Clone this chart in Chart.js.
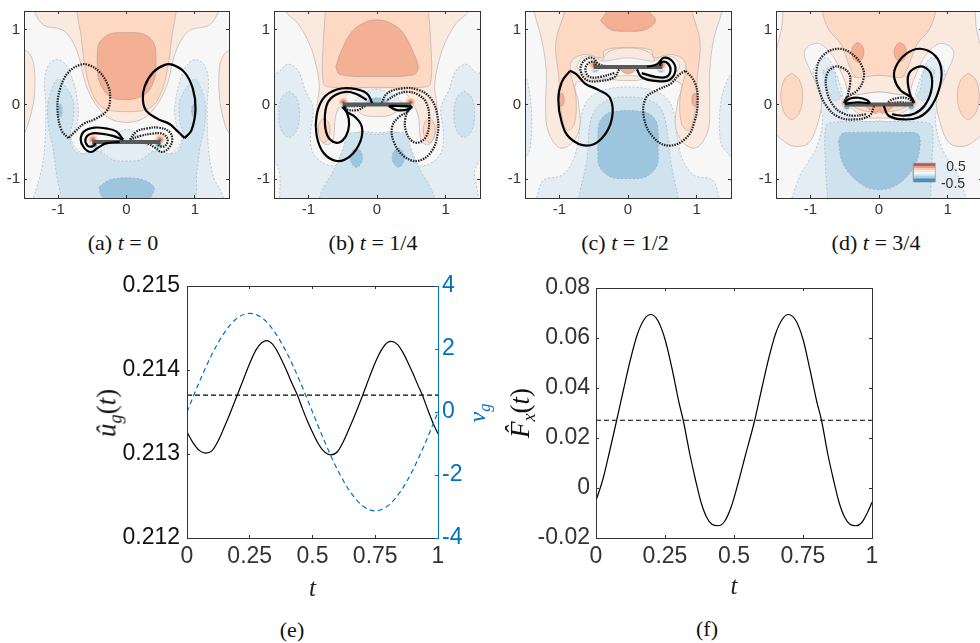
<!DOCTYPE html>
<html>
<head>
<meta charset="utf-8">
<title>Flapping foil</title>
<script src="https://cdn.jsdelivr.net/npm/chart.js@4"></script>
<style>
 html, body { margin: 0; padding: 0; background: #fff; }
 #page { position: relative; width: 980px; height: 643px; overflow: hidden; }
 canvas { position: absolute; }
 .txt { position: absolute; white-space: nowrap; transform: translate(-50%, -50%); font-family: "Liberation Serif", serif; color: #111; }
 .rot { transform: translate(-50%, -50%) rotate(-90deg); }
 .txt i { font-style: italic; }
 .txt sub { font-size: 68%; line-height: 0; }
</style>
</head>
<body>
<div id="page"></div>
<script>
// panel (a) t = 0
var aSideL = [[-1.6,.75],[-1.5,.73],[-1.42,.68],[-1.35,.5],[-1.35,.1],[-1.42,-.2],[-1.5,-.38],[-1.6,-.4],[-1.6,.75]];
var aSideR = [[1.6,.73],[1.5,.72],[1.42,.66],[1.36,.5],[1.36,.1],[1.42,-.2],[1.5,-.38],[1.6,-.4],[1.6,.73]];
var aCool1 = [[-1.38,-1.3],[-1.26,-.93],[-1.2,-.6],[-1.18,0],[-1.2,.32],[-1.13,.54],[-1,.6],[-.88,.52],[-.77,.28],[-.71,0],[-.71,-.18],[-.76,-.36],[-.81,-.45],[-.73,-.6],[-.55,-.68],[-.38,-.62],[-.25,-.5],[-.12,-.38],[0,-.33],[.12,-.38],[.25,-.5],[.38,-.62],[.55,-.68],[.73,-.6],[.81,-.45],[.76,-.36],[.71,-.18],[.71,0],[.77,.28],[.88,.52],[1,.6],[1.13,.54],[1.2,.32],[1.18,0],[1.2,-.6],[1.26,-.93],[1.38,-1.3],[-1.38,-1.3]];
var aCool2 = [[-.94,-1.3],[-1.03,-.9],[-1.08,-.55],[-1.14,-.3],[-1.15,0],[-1.08,.24],[-1,.34],[-.9,.25],[-.78,.05],[-.78,-.2],[-.83,-.45],[-.72,-.65],[-.4,-.625],[-.2,-.74],[0,-.755],[.2,-.74],[.4,-.625],[.72,-.65],[.83,-.45],[.78,-.2],[.78,.05],[.9,.25],[1,.34],[1.08,.24],[1.15,0],[1.14,-.3],[1.08,-.55],[1.03,-.9],[.94,-1.3],[-.94,-1.3]];
var aCool3 = [[-.4,-1.1],[-.25,-1.01],[0,-.98],[.25,-1.01],[.4,-1.1],[.38,-1.2],[.28,-1.3],[-.28,-1.3],[-.38,-1.2],[-.4,-1.1]];
var aSpotL = [[-.97,.01],[-.95,-.02],[-.94,-.08],[-.95,-.14],[-.97,-.17],[-.99,-.14],[-1,-.08],[-.99,-.02],[-.97,.01]];
var aSpotR = [[.985,.01],[1.005,-.02],[1.02,-.08],[1.005,-.14],[.985,-.17],[.965,-.14],[.95,-.08],[.965,-.02],[.985,.01]];
var aWarm1 = [[-1.35,1.35],[-1.35,1.25],[-1.21,1.06],[-.94,1],[-.8,.86],[-.69,.62],[-.6,.28],[-.45,0],[-.25,-.185],[0,-.24],[.25,-.185],[.45,0],[.6,.28],[.69,.62],[.8,.86],[.94,1],[1.21,1.06],[1.35,1.25],[1.35,1.35],[-1.35,1.35]];
var aWarm2 = [[-.73,1.35],[-.73,1.25],[-.67,.95],[-.62,.58],[-.52,.19],[-.35,-.04],[0,-.095],[.35,-.04],[.52,.19],[.62,.58],[.67,.95],[.73,1.25],[.73,1.35],[-.73,1.35]];
var aWarm3 = [[-.43,.62],[-.4,.82],[-.25,.94],[0,.96],[.25,.94],[.4,.82],[.43,.62],[.41,.345],[.29,.15],[.09,.07],[0,.065],[-.18,.08],[-.3,.15],[-.41,.345],[-.43,.62]];
var aTipsWarm = [[-.49,-.47],[.49,-.47]];
var aTipsCool = [[-.47,-.54],[.47,-.54]];
var aFoil = [[-.5,-.5],[.5,-.5]];
var aLoopSolid = [[.85,-.45],[.95,-.345],[1.01,-.065],[.97,.215],[.85,.43],[.68,.53],[.56,.53],[.39,.43],[.265,.24],[.24,.065],[.29,-.085],[.46,-.195],[.63,-.26],[.755,-.365],[.85,-.45]];
var aLoopDotted = [[-.85,-.45],[-.95,-.345],[-1.01,-.065],[-.97,.215],[-.85,.43],[-.68,.53],[-.56,.53],[-.39,.43],[-.265,.24],[-.24,.065],[-.29,-.085],[-.46,-.195],[-.63,-.26],[-.755,-.365],[-.85,-.45]];
var aCurlSolid1 = [[-.05,-.47],[-.15,-.36],[-.3,-.32],[-.47,-.31],[-.62,-.36],[-.67,-.47],[-.62,-.58],[-.52,-.635],[-.42,-.58],[-.3,-.52],[-.1,-.5]];
var aCurlSolid2 = [[-.05,-.47],[-.2,-.42],[-.38,-.39],[-.52,-.39],[-.6,-.46],[-.57,-.55],[-.5,-.56],[-.45,-.52]];
var aCurlDotted1 = [[.05,-.47],[.15,-.36],[.3,-.32],[.47,-.31],[.62,-.36],[.67,-.47],[.62,-.58],[.52,-.635],[.42,-.58],[.3,-.52],[.1,-.5]];
var aCurlDotted2 = [[.05,-.47],[.2,-.42],[.38,-.39],[.52,-.39],[.6,-.46],[.57,-.55],[.5,-.56],[.45,-.52]];

// panel (b) t = 1/4
var bCool1 = [[-1.42,-1.3],[-1.42,-.9],[-1.5,-.75],[-1.55,-.75],[-1.55,.42],[-1.45,.42],[-1.3,.54],[-1.15,.45],[-1.05,.2],[-.93,-.05],[-.97,-.4],[-.93,-.65],[-.75,-.8],[-.55,-.8],[-.45,-.6],[-.3,-.38],[0,-.38],[.3,-.38],[.45,-.6],[.55,-.8],[.75,-.8],[.93,-.65],[.97,-.4],[.93,-.05],[1.05,.2],[1.15,.45],[1.3,.54],[1.45,.42],[1.55,.42],[1.55,-.75],[1.5,-.75],[1.42,-.9],[1.42,-1.3],[-1.42,-1.3]];
var bCool2 = [[-.84,-1.3],[-.84,-1.25],[-.76,-1.08],[-.63,-.88],[-.49,-.58],[-.41,-.39],[0,-.4],[.41,-.39],[.49,-.58],[.63,-.88],[.76,-1.08],[.84,-1.25],[.84,-1.3],[-.84,-1.3]];
var bSideL = [[-1.28,.18],[-1.17,.09],[-1.13,-.13],[-1.17,-.35],[-1.28,-.44],[-1.39,-.35],[-1.43,-.13],[-1.39,.09],[-1.28,.18]];
var bSideR = [[1.27,.18],[1.38,.09],[1.42,-.13],[1.38,-.35],[1.27,-.44],[1.16,-.35],[1.12,-.13],[1.16,.09],[1.27,.18]];
var bSpotL = [[-.3,-.58],[-.24,-.62],[-.21,-.71],[-.24,-.8],[-.3,-.84],[-.36,-.8],[-.39,-.71],[-.36,-.62],[-.3,-.58]];
var bSpotR = [[.31,-.58],[.37,-.62],[.4,-.71],[.37,-.8],[.31,-.84],[.25,-.8],[.22,-.71],[.25,-.62],[.31,-.58]];
var bWarm1 = [[-1.34,1.35],[-1.34,1.25],[-1.15,1.08],[-.98,.8],[-.88,.5],[-.84,.24],[-.87,0],[-.88,-.25],[-.78,-.52],[-.65,-.5],[-.6,-.15],[-.5,.05],[-.35,.2],[0,.22],[.35,.2],[.5,.05],[.6,-.15],[.65,-.5],[.78,-.52],[.88,-.25],[.87,0],[.84,.24],[.88,.5],[.98,.8],[1.15,1.08],[1.34,1.25],[1.34,1.35],[-1.34,1.35]];
var bWarm2 = [[-.75,1.35],[-.75,1.25],[-.78,.88],[-.78,.28],[-.66,.23],[0,.23],[.66,.23],[.78,.28],[.78,.88],[.75,1.25],[.75,1.35],[-.75,1.35]];
var bWarm3 = [[-.6,.5],[-.54,.67],[-.37,.97],[-.17,1.1],[0,1.13],[.17,1.1],[.37,.97],[.54,.67],[.6,.5],[.54,.4],[0,.375],[-.54,.4],[-.6,.5]];
var bLobeL = [[-.77,-.18],[-.71,-.23],[-.685,-.345],[-.71,-.46],[-.77,-.51],[-.83,-.46],[-.855,-.345],[-.83,-.23],[-.77,-.18]];
var bLobeR = [[.76,-.18],[.82,-.23],[.845,-.34],[.82,-.46],[.76,-.51],[.7,-.46],[.675,-.34],[.7,-.23],[.76,-.18]];
var bTop1 = [[-.36,.01],[-.22,.14],[0,.2],[.22,.14],[.36,.01],[-.36,.01]];
var bTop2 = [[-.18,.01],[-.08,.08],[.08,.08],[.18,.01],[-.18,.01]];
var bUnder = [[-.36,-.02],[-.2,-.14],[0,-.16],[.2,-.14],[.36,-.02],[-.36,-.02]];
var bTipsWarm = [[-.49,.03],[.49,.03]];
var bTipsCool = [[-.47,-.03],[.47,-.03]];
var bFoil = [[-.5,0],[.5,0]];
var bOuterSolid = [[-.07,.02],[-.15,.15],[-.37,.215],[-.585,.2],[-.78,.085],[-.88,-.15],[-.88,-.41],[-.78,-.645],[-.585,-.755],[-.39,-.69],[-.245,-.5],[-.22,-.3],[-.315,-.17],[-.44,-.1],[-.49,-.04]];
var bInnerSolid = [[-.15,.06],[-.3,.14],[-.45,.17],[-.6,.13],[-.72,.02],[-.76,-.2],[-.72,-.42],[-.6,-.51],[-.5,-.48],[-.42,-.35],[-.41,-.2],[-.46,-.06],[-.48,-.02]];
var bSmallSolid = [[.17,-.02],[.29,-.075],[.46,-.065],[.5,-.03],[.3,-.02],[.17,-.02]];
var bOuterDotted = [[.07,.02],[.15,.15],[.37,.215],[.585,.2],[.78,.085],[.88,-.15],[.88,-.41],[.78,-.645],[.585,-.755],[.39,-.69],[.245,-.5],[.22,-.3],[.315,-.17],[.44,-.1],[.49,-.04]];
var bInnerDotted = [[.15,.06],[.3,.14],[.45,.17],[.6,.13],[.72,.02],[.76,-.2],[.72,-.42],[.6,-.51],[.5,-.48],[.42,-.35],[.41,-.2],[.46,-.06],[.48,-.02]];
var bSmallDotted = [[-.17,-.02],[-.29,-.075],[-.46,-.065],[-.5,-.03],[-.3,-.02],[-.17,-.02]];

// panel (c) t = 1/2
var cSideL = [[-1.55,.4],[-1.5,.4],[-1.44,.2],[-1.4,-.2],[-1.43,-.6],[-1.5,-.72],[-1.55,-.72],[-1.55,.4]];
var cSideR = [[1.55,.4],[1.47,.37],[1.35,.02],[1.35,-.5],[1.47,-.67],[1.55,-.72],[1.55,.4]];
var cCool1 = [[-1.33,-1.3],[-1.33,-1.25],[-1.23,-1.01],[-.97,-.95],[-.8,-.75],[-.72,-.45],[-.68,-.15],[-.58,.065],[-.38,.185],[0,.235],[.38,.185],[.58,.065],[.68,-.15],[.72,-.45],[.8,-.75],[.97,-.95],[1.23,-1.01],[1.33,-1.25],[1.33,-1.3],[-1.33,-1.3]];
var cCool2 = [[-.72,-1.3],[-.72,-1.25],[-.6,-.75],[-.55,-.24],[-.43,-.02],[-.21,.085],[0,.1],[.2,.085],[.45,-.02],[.55,-.24],[.62,-.75],[.73,-1.25],[.73,-1.3],[-.72,-1.3]];
var cCool3 = [[-.44,-.6],[-.42,-.25],[-.3,-.12],[-.1,-.085],[0,-.08],[.1,-.085],[.3,-.12],[.42,-.25],[.44,-.6],[.42,-.82],[.25,-.97],[0,-.99],[-.25,-.97],[-.42,-.82],[-.44,-.6]];
var cWarm1 = [[-1.37,1.35],[-1.37,1.25],[-1.26,.88],[-1.19,.45],[-1.2,-.065],[-1.16,-.365],[-.99,-.58],[-.8,-.5],[-.7,-.28],[-.72,.02],[-.76,.28],[-.43,.32],[0,.345],[.43,.32],[.77,.28],[.72,.02],[.69,-.28],[.79,-.5],[.99,-.58],[1.16,-.365],[1.19,-.065],[1.19,.45],[1.25,.88],[1.37,1.25],[1.37,1.35],[-1.37,1.35]];
var cWarm2 = [[-.92,1.35],[-.92,1.25],[-1.05,.84],[-1.01,.37],[-.97,-.11],[-.89,-.345],[-.78,-.26],[-.76,.11],[-.84,.45],[-.81,.6],[-.62,.67],[-.38,.625],[-.33,.73],[0,.76],[.33,.73],[.38,.625],[.62,.67],[.81,.6],[.84,.45],[.76,.11],[.78,-.26],[.89,-.345],[.97,-.11],[1.01,.37],[1.05,.84],[.93,1.25],[.93,1.35],[-.92,1.35]];
var cWarm3 = [[-.4,1.12],[-.3,1.25],[-.25,1.32],[.25,1.32],[.3,1.25],[.4,1.12],[.25,1],[0,.98],[-.25,1],[-.4,1.12]];
var cHalo = [[-.75,.5],[-.67,.625],[-.5,.645],[-.38,.58],[0,.625],[.38,.58],[.5,.645],[.67,.625],[.75,.5],[.55,.345],[0,.39],[-.53,.345],[-.75,.5]];
var cBump = [[-.38,.58],[-.28,.71],[0,.755],[.28,.71],[.385,.58],[.25,.36],[0,.32],[-.25,.36],[-.38,.58]];
var cUnder = [[-.12,.48],[0,.49],[.12,.48],[.05,.42],[-.05,.42],[-.12,.48]];
var cSpotL = [[-.965,.155],[-.94,.12],[-.93,.065],[-.94,.01],[-.965,-.025],[-.99,.01],[-1,.065],[-.99,.12],[-.965,.155]];
var cSpotR = [[.97,.155],[1,.12],[1.01,.065],[1,.01],[.97,-.025],[.94,.01],[.93,.065],[.94,.12],[.97,.155]];
var cTipsWarm = [[-.49,.53],[.49,.53]];
var cTipsCool = [[-.48,.47],[.48,.47]];
var cFoil = [[-.5,.5],[.5,.5]];
var cLoopSolid = [[-.845,.45],[-.965,.3],[-1.015,.065],[-.965,-.24],[-.845,-.45],[-.6,-.55],[-.38,-.45],[-.235,-.19],[-.26,.085],[-.43,.195],[-.625,.28],[-.745,.4],[-.845,.45]];
var cLoopDotted = [[.84,.45],[.97,.3],[1.015,.065],[.965,-.24],[.845,-.45],[.6,-.55],[.38,-.45],[.235,-.19],[.26,.085],[.43,.195],[.625,.28],[.745,.4],[.84,.45]];
var cCurlSolid1 = [[.13,.47],[.2,.365],[.4,.315],[.595,.325],[.69,.45],[.645,.58],[.52,.625],[.425,.54],[.28,.505]];
var cCurlSolid2 = [[.2,.42],[.4,.37],[.56,.37],[.62,.46],[.58,.55],[.5,.57],[.46,.52]];
var cCurlDotted1 = [[-.13,.47],[-.2,.365],[-.4,.315],[-.595,.325],[-.69,.45],[-.645,.58],[-.52,.625],[-.425,.54],[-.28,.505]];
var cCurlDotted2 = [[-.2,.42],[-.4,.37],[-.56,.37],[-.62,.46],[-.58,.55],[-.5,.57],[-.46,.52]];

// panel (d) t = 3/4
var dCool1 = [[-1.3,-1.3],[-1.27,-1.25],[-1.15,-.95],[-1.05,-.8],[-.9,-.55],[-.82,-.2],[-.87,0],[-.96,.4],[-.9,.55],[-.75,.62],[-.6,.35],[-.5,.02],[-.46,-.1],[-.25,-.22],[0,-.22],[.25,-.22],[.46,-.1],[.5,.02],[.6,.35],[.75,.62],[.9,.55],[.96,.4],[.87,0],[.82,-.2],[.9,-.55],[1.05,-.8],[1.15,-.95],[1.27,-1.25],[1.3,-1.3],[-1.3,-1.3]];
var dLobeL = [[-.82,.45],[-.68,.5],[-.6,.2],[-.55,.1],[-.65,.05],[-.75,.2],[-.82,.45]];
var dLobeR = [[.82,.45],[.68,.5],[.6,.2],[.55,.1],[.65,.05],[.75,.2],[.82,.45]];
var dCool2 = [[-.75,-1.3],[-.75,-1.25],[-.785,-.71],[-.775,-.3],[-.69,-.24],[0,-.23],[.68,-.24],[.775,-.3],[.775,-.71],[.75,-1.25],[.75,-1.3],[-.75,-1.3]];
var dCool3 = [[-.59,-.5],[-.54,-.39],[-.35,-.375],[0,-.37],[.34,-.375],[.56,-.39],[.6,-.52],[.53,-.8],[.29,-1.06],[0,-1.14],[-.27,-1.06],[-.52,-.8],[-.59,-.5]];
var dWarm1 = [[-1.4,1.35],[-1.4,1.25],[-1.42,1.01],[-1.49,.75],[-1.55,.4],[-1.55,-.32],[-1.37,-.5],[-1.22,-.56],[-1.03,-.52],[-.91,-.3],[-.84,.06],[-1,.45],[-1.09,.67],[-1.03,.78],[-.86,.81],[-.66,.63],[-.5,.32],[-.42,.15],[0,.17],[.42,.15],[.5,.32],[.66,.63],[.86,.81],[1.03,.78],[1.09,.67],[1,.45],[.84,.06],[.91,-.3],[1.03,-.52],[1.22,-.56],[1.37,-.5],[1.55,-.32],[1.55,.4],[1.49,.75],[1.42,1.01],[1.4,1.25],[1.4,1.35],[-1.4,1.35]];
var dWarm2 = [[-.83,1.35],[-.83,1.25],[-.73,1],[-.55,.8],[-.4,.45],[-.3,.35],[0,.39],[.3,.35],[.4,.45],[.55,.8],[.73,1],[.83,1.25],[.83,1.35],[-.83,1.35]];
var dSpotL = [[-.31,.83],[-.25,.79],[-.22,.7],[-.25,.61],[-.31,.57],[-.37,.61],[-.4,.7],[-.37,.79],[-.31,.83]];
var dSpotR = [[.31,.83],[.37,.79],[.4,.7],[.37,.61],[.31,.57],[.25,.61],[.22,.7],[.25,.79],[.31,.83]];
var dSideL = [[-1.27,.42],[-1.16,.33],[-1.11,.11],[-1.16,-.11],[-1.27,-.2],[-1.38,-.11],[-1.43,.11],[-1.38,.33],[-1.27,.42]];
var dSideR = [[1.3,.42],[1.41,.33],[1.46,.11],[1.41,-.11],[1.3,-.2],[1.19,-.11],[1.14,.11],[1.19,.33],[1.3,.42]];
var dUnder1 = [[-.45,-.02],[-.2,-.17],[0,-.18],[.2,-.17],[.45,-.02],[-.45,-.02]];
var dUnder2 = [[-.4,-.02],[-.2,-.09],[.2,-.09],[.4,-.02],[-.4,-.02]];
var dUnder3 = [[-.2,-.02],[-.05,-.12],[0,-.08],[.05,-.12],[.2,-.02],[-.2,-.02]];
var dBump = [[-.4,.38],[-.3,.36],[0,.39],[.3,.36],[.4,.38],[.42,.15],[0,.17],[-.42,.15],[-.4,.38]];
var dTipsWarm = [[-.49,.02],[.49,.02]];
var dTipsCool = [[-.47,-.03],[.47,-.03]];
var dFoil = [[-.5,0],[.5,0]];
var dOuterSolid = [[.07,-.02],[.14,-.15],[.36,-.2],[.58,-.17],[.75,-.04],[.87,.19],[.91,.45],[.82,.65],[.6,.745],[.385,.67],[.24,.495],[.225,.345],[.31,.195],[.48,.085],[.51,.02]];
var dInnerSolid = [[.19,-.13],[.36,-.15],[.52,-.12],[.66,-.02],[.76,.18],[.76,.4],[.66,.5],[.56,.5],[.44,.42],[.42,.28],[.46,.12],[.5,.03]];
var dSmallSolid = [[-.5,.03],[-.42,.08],[-.3,.09],[-.18,.06],[-.14,.02],[-.3,.03],[-.5,.01]];
var dOuterDotted = [[-.07,-.02],[-.14,-.15],[-.36,-.2],[-.58,-.17],[-.75,-.04],[-.87,.19],[-.91,.45],[-.82,.65],[-.6,.745],[-.385,.67],[-.24,.495],[-.225,.345],[-.31,.195],[-.48,.085],[-.51,.02]];
var dInnerDotted = [[-.19,-.13],[-.36,-.15],[-.52,-.12],[-.66,-.02],[-.76,.18],[-.76,.4],[-.66,.5],[-.56,.5],[-.44,.42],[-.42,.28],[-.46,.12],[-.5,.03]];
var dSmallDotted = [[.5,.03],[.42,.08],[.3,.09],[.18,.06],[.14,.02],[.3,.03],[.5,.01]];

// colour key in panel (d)
var barX = [.5, .82];
var barY = [-1.035,-1.015,-.995,-.975,-.95,-.925,-.9,-.875,-.85,-.825,-.805,-.785];
var barColors = ['#1f5f9f','#3f86bb','#7ab2d5','#b0d3e6','#dcebf3','#f7f7f7','#fbe7dc','#f9cdb6','#ef9f80','#d4604c','#a82a2e'];

// panel (e)
var eTime = [0,.025,.05,.075,.1,.125,.15,.175,.2,.225,.25,.275,.3,.318,.34,.36,.38,.4,.42,.44,.46,.48,.5,.52,.54,.574,.6,.625,.65,.675,.7,.725,.75,.775,.8,.815,.84,.86,.88,.9,.92,.938,.96,.98,1];
var eGust = [.21326,.21313,.21304,.21301,.21304,.21316,.21333,.21351,.2137,.21389,.21408,.21424,.21433,.21435,.21431,.21422,.2141,.21397,.21383,.2137,.21354,.21339,.21326,.21314,.21305,.21299,.21303,.21316,.21333,.21351,.2137,.2139,.21409,.21424,.21433,.21434,.2143,.21421,.21409,.21396,.21382,.2137,.21352,.21337,.21324];
var eMeanX = [0, 1];
var eMean = [.2137, .2137];
var vTime = [0,.05,.1,.15,.2,.25,.3,.35,.4,.45,.5,.55,.6,.65,.7,.75,.8,.85,.9,.95,1];
var vGust = [0,.97,1.84,2.53,2.98,3.13,2.98,2.53,1.84,.97,0,-.97,-1.84,-2.53,-2.98,-3.14,-2.98,-2.53,-1.84,-.97,0];

// panel (f)
var fTime = [0,.025,.05,.075,.1,.125,.15,.175,.199,.225,.25,.275,.3,.316,.34,.36,.38,.4,.42,.443,.465,.49,.515,.54,.575,.6,.625,.65,.675,.697,.725,.75,.775,.8,.817,.84,.86,.88,.9,.92,.943,.965,.985,1];
var fForce = [-.005,.0035,.015,.0271,.0395,.0515,.0615,.0675,.0694,.0668,.0595,.048,.0345,.0271,.0135,.0035,-.0055,-.0115,-.0145,-.0151,-.0135,-.0075,.002,.0125,.0271,.0395,.0515,.0615,.0675,.0694,.0668,.0595,.0475,.0345,.0271,.0135,.0035,-.0055,-.0115,-.0145,-.0151,-.0135,-.0095,-.0057];
var fMeanX = [0, 1];
var fMean = [.0271, .0271];

// ticks
var fieldXTicks = [-1, 0, 1];
var fieldYTicks = [-1, 0, 1];
var timeTicks = [0, .25, .5, .75, 1];
var eLeftTicks = [.212, .213, .214, .215];
var eRightTicks = [-4, -2, 0, 2, 4];
var fTicks = [-.02, 0, .02, .04, .06, .08];

var SANS = '"Liberation Sans", Arial, sans-serif';
var SERIF = '"Liberation Serif", serif';
var AXIS = '#333333';
var BLUE = '#0072BD';

var LEVELS = {
    warm1: { fill: '#FAE9DF', line: '#bdb1a9', dash: [] },
    warm2: { fill: '#FDD9C4', line: '#bdaea4', dash: [] },
    warm3: { fill: '#F4B094', line: '#c09a88', dash: [] },
    cool1: { fill: '#E4ECF4', line: '#a9b1b8', dash: [2, 2] },
    cool2: { fill: '#CFE3EF', line: '#a5b1b9', dash: [2, 2] },
    cool3: { fill: '#9DC5DE', line: '#8fa9ba', dash: [2, 2] },
    grey: { fill: '#F7F7F7', line: '#bbbbbb', dash: [] }
};

function toXY(pairs) {
    return pairs.map(function (p) { return { x: p[0], y: p[1] }; });
}
function zip(xs, ys) {
    return xs.map(function (x, i) { return { x: x, y: ys[i] }; });
}
function region(pairs, level) {
    var s = LEVELS[level];
    return { data: toXY(pairs), showLine: true, fill: 'shape', backgroundColor: s.fill, borderColor: s.line,
        borderWidth: .7, borderDash: s.dash, pointRadius: 0, tension: .35, capBezierPoints: false };
}
function curve(pairs, dotted) {
    return { data: toXY(pairs), showLine: true, fill: false, borderColor: dotted ? '#222' : '#000',
        borderWidth: 2.2, borderDash: dotted ? [1.5, 1.1] : [], pointRadius: 0, tension: .4, capBezierPoints: false };
}
function foil(pairs) {
    return { data: toXY(pairs), showLine: true, fill: false, borderColor: '#595959', borderWidth: 4, pointRadius: 0, tension: 0 };
}
function spots(pairs, color, r) {
    return { data: toXY(pairs), showLine: false, pointRadius: r, pointBorderWidth: 0, pointBackgroundColor: color };
}
function warmTips(pairs) {
    return [spots(pairs, '#FAE9DF', 6), spots(pairs, '#F9CDB6', 4.5), spots(pairs, '#EE9F80', 3), spots(pairs, '#C8604A', 1.5)];
}
function coolTips(pairs) {
    return [spots(pairs, '#CFE3EF', 4), spots(pairs, '#7AB2D5', 2.5)];
}

var plotBg = {
    id: 'plotBg',
    beforeDatasetsDraw: function (chart, args, opts) {
        if (!opts.color) return;
        var a = chart.chartArea;
        chart.ctx.save();
        chart.ctx.fillStyle = opts.color;
        chart.ctx.fillRect(a.left, a.top, a.width, a.height);
        chart.ctx.restore();
    }
};

// one side of the box, MATLAB style ticks pointing inward
function side(pos, min, max, values, size, cfg) {
    cfg = cfg || {};
    var horizontal = pos === 'top' || pos === 'bottom';
    var color = cfg.color || AXIS;
    var s = {
        type: 'linear', position: pos, min: min, max: max,
        afterBuildTicks: function (axis) { axis.ticks = values.map(function (v) { return { value: v }; }); },
        afterFit: function (axis) {
            if (horizontal) axis.height = size; else axis.width = size;
            // keep the plot box where it is, labels may overflow it
            axis.paddingTop = axis.paddingBottom = axis.paddingLeft = axis.paddingRight = 0;
        },
        grid: { drawOnChartArea: false, drawTicks: true, tickLength: -(cfg.tick || 3), color: color, z: 1 },
        border: { color: color, width: 1, z: 1 },
        ticks: { display: !!cfg.font, color: cfg.labelColor || color, padding: cfg.pad || 0, autoSkip: false, maxRotation: 0,
            font: { family: SANS, size: cfg.font || 12 }, callback: function (v) { return cfg.fmt ? cfg.fmt(v) : String(v); } }
    };
    if (cfg.title) s.title = { display: true, text: cfg.title, color: '#222', padding: 0, font: { family: SERIF, style: 'italic', size: 25 } };
    return s;
}

function addCanvas(left, top, width, height) {
    var c = document.createElement('canvas');
    c.width = width;
    c.height = height;
    c.style.left = left + 'px';
    c.style.top = top + 'px';
    c.style.width = width + 'px';
    c.style.height = height + 'px';
    document.getElementById('page').appendChild(c);
    return c;
}

function draw(canvas, datasets, scales, padding, bg) {
    datasets.forEach(function (d, i) { d.order = datasets.length - i; });
    return new Chart(canvas, {
        type: 'scatter',
        data: { datasets: datasets },
        options: {
            responsive: false, animation: false, events: [],
            layout: { padding: padding },
            plugins: { legend: { display: false }, tooltip: { enabled: false }, plotBg: { color: bg } },
            scales: scales
        },
        plugins: [plotBg]
    });
}

// contour panel: plot box at (L, T) size (W, H)
function fieldPanel(L, T, W, H, datasets) {
    var ml = L, mb = 32, mr = 14;
    var c = addCanvas(0, T, L + W + mr, H + mb);
    draw(c, datasets, {
        x: side('bottom', -1.5, 1.5, fieldXTicks, mb, { font: 15, pad: 6 }),
        y: side('left', -1.25, 1.25, fieldYTicks, ml, { font: 15, pad: 7 }),
        xTop: Object.assign(side('top', -1.5, 1.5, fieldXTicks, 0), { axis: 'x' }),
        yRight: Object.assign(side('right', -1.25, 1.25, fieldYTicks, 0), { axis: 'y' })
    }, { top: 0, right: mr, left: 0, bottom: 0 }, LEVELS.grey.fill);
}

var panelA = [region(aSideL,'warm1'),region(aSideR,'warm1'),region(aCool1,'cool1'),region(aCool2,'cool2'),region(aCool3,'cool3'),region(aSpotL,'cool3'),region(aSpotR,'cool3'),
    region(aWarm1,'warm1'),region(aWarm2,'warm2'),region(aWarm3,'warm3')]
    .concat(warmTips(aTipsWarm), coolTips(aTipsCool),
    [curve(aLoopSolid),curve(aLoopDotted,true),curve(aCurlDotted1,true),curve(aCurlDotted2,true),foil(aFoil),curve(aCurlSolid1),curve(aCurlSolid2)]);

var panelB = [region(bCool1,'cool1'),region(bCool2,'cool2'),region(bSideL,'cool2'),region(bSideR,'cool2'),region(bSpotL,'cool3'),region(bSpotR,'cool3'),
    region(bWarm1,'warm1'),region(bWarm2,'warm2'),region(bWarm3,'warm3'),region(bLobeL,'warm2'),region(bLobeR,'warm2'),
    region(bTop1,'cool1'),region(bTop2,'cool3'),region(bUnder,'warm1')]
    .concat(warmTips(bTipsWarm), coolTips(bTipsCool),
    [curve(bOuterDotted,true),curve(bInnerDotted,true),curve(bSmallDotted,true),foil(bFoil),curve(bOuterSolid),curve(bInnerSolid),curve(bSmallSolid)]);

var panelC = [region(cSideL,'cool1'),region(cSideR,'cool1'),region(cCool1,'cool1'),region(cCool2,'cool2'),region(cCool3,'cool3'),
    region(cWarm1,'warm1'),region(cWarm2,'warm2'),region(cWarm3,'warm3'),region(cSpotL,'warm3'),region(cSpotR,'warm3'),
    region(cBump,'warm1'),region(cHalo,'grey'),region(cUnder,'warm3')]
    .concat(coolTips(cTipsCool), warmTips(cTipsWarm),
    [curve(cLoopSolid),curve(cLoopDotted,true),curve(cCurlDotted1,true),curve(cCurlDotted2,true),foil(cFoil),curve(cCurlSolid1),curve(cCurlSolid2)]);

var panelD = [region(dCool1,'cool1'),region(dLobeL,'cool2'),region(dLobeR,'cool2'),region(dCool2,'cool2'),region(dCool3,'cool3'),
    region(dWarm1,'warm1'),region(dWarm2,'warm2'),region(dBump,'warm1'),region(dSpotL,'warm3'),region(dSpotR,'warm3'),region(dSideL,'warm2'),region(dSideR,'warm2'),
    region(dUnder1,'warm1'),region(dUnder2,'warm2'),region(dUnder3,'warm3')]
    .concat(warmTips(dTipsWarm), coolTips(dTipsCool),
    [curve(dOuterDotted,true),curve(dInnerDotted,true),curve(dSmallDotted,true),foil(dFoil),curve(dOuterSolid),curve(dInnerSolid),curve(dSmallSolid)]);

// colour key bands on top of panel (d)
barColors.forEach(function (color, i) {
    panelD.push({ data: toXY([[barX[0],barY[i]],[barX[1],barY[i]],[barX[1],barY[i+1]],[barX[0],barY[i+1]],[barX[0],barY[i]]]),
        showLine: true, fill: 'shape', backgroundColor: color, borderWidth: 0, borderColor: color, pointRadius: 0, tension: 0 });
});
panelD.push({ data: toXY([[barX[0],barY[0]],[barX[1],barY[0]],[barX[1],barY[11]],[barX[0],barY[11]],[barX[0],barY[0]]]),
    showLine: true, fill: false, borderColor: '#a0a0a0', borderWidth: .8, pointRadius: 0, tension: 0 });

fieldPanel(24, 5, 205, 193, panelA);
fieldPanel(274, 5, 206, 193, panelB);
fieldPanel(525, 5, 206, 193, panelC);
fieldPanel(776, 5, 206, 193, panelD);

function thinLine(points, color, width, dash) {
    return { data: points, showLine: true, fill: false, borderColor: color, borderWidth: width, borderDash: dash,
        pointRadius: 0, tension: 0, cubicInterpolationMode: 'monotone' };
}

// panel (e)
(function () {
    var L = 187, T = 286, W = 251, H = 252, ml = 100, mb = 66, mt = 16, mr = 50;
    var c = addCanvas(L - ml, T - mt, ml + W + mr, mt + H + mb);
    var fmt3 = function (v) { return v.toFixed(3); };
    var blueSeries = thinLine(zip(vTime, vGust), BLUE, 1.2, [5, 3.5]);
    blueSeries.yAxisID = 'yRight';
    draw(c, [thinLine(zip(eMeanX, eMean), '#000', 1.2, [5, 3]), thinLine(zip(eTime, eGust), '#000', 1.2, []), blueSeries], {
        x: side('bottom', 0, 1, timeTicks, mb, { font: 23, pad: 8, tick: 3, title: 't' }),
        y: side('left', .212, .215, eLeftTicks, ml, { font: 23, pad: 10, fmt: fmt3, labelColor: '#111', tick: 3 }),
        xTop: Object.assign(side('top', 0, 1, timeTicks, 0), { axis: 'x' }),
        yRight: Object.assign(side('right', -4, 4, eRightTicks, mr, { font: 23, pad: 7, color: BLUE, tick: 3 }), { axis: 'y' })
    }, { top: mt, right: 0, left: 0, bottom: 0 });
})();

// panel (f)
(function () {
    var L = 596, T = 288, W = 276, H = 250, ml = 70, mb = 64, mt = 14, mr = 14;
    var c = addCanvas(L - ml, T - mt, ml + W + mr, mt + H + mb);
    draw(c, [thinLine(zip(fMeanX, fMean), '#000', 1.2, [5, 3]), thinLine(zip(fTime, fForce), '#000', 1.2, [])], {
        x: side('bottom', 0, 1, timeTicks, mb, { font: 23, pad: 8, tick: 3, title: 't' }),
        y: side('left', -.02, .08, fTicks, ml, { font: 23, pad: 9, tick: 3 }),
        xTop: Object.assign(side('top', 0, 1, timeTicks, 0), { axis: 'x' }),
        yRight: Object.assign(side('right', -.02, .08, fTicks, 0), { axis: 'y' })
    }, { top: mt, right: mr, left: 0, bottom: 0 });
})();

// captions and the labels canvas text cannot subscript
var labels = [
    [123, 243, 22, '(a) <i>t</i>&nbsp;=&nbsp;0'],
    [373, 243, 22, '(b) <i>t</i>&nbsp;=&nbsp;1/4'],
    [625, 243, 22, '(c) <i>t</i>&nbsp;=&nbsp;1/2'],
    [876, 243, 22, '(d) <i>t</i>&nbsp;=&nbsp;3/4'],
    [292, 630, 22, '(e)'],
    [707, 629, 22, '(f)']
];
labels.forEach(function (l) {
    var d = document.createElement('div');
    d.className = 'txt';
    d.style.left = l[0] + 'px';
    d.style.top = l[1] + 'px';
    d.style.fontSize = l[2] + 'px';
    d.innerHTML = l[3];
    document.getElementById('page').appendChild(d);
});
var rotated = [
    [107, 413, 27, '#111', '<i>û<sub>g</sub></i>(<i>t</i>)'],
    [477, 413, 24, BLUE, '<i>v<sub>g</sub></i>'],
    [520, 413, 27, '#111', '<i>F̂<sub>x</sub></i>(<i>t</i>)']
];
rotated.forEach(function (l) {
    var d = document.createElement('div');
    d.className = 'txt rot';
    d.style.left = l[0] + 'px';
    d.style.top = l[1] + 'px';
    d.style.fontSize = l[2] + 'px';
    d.style.color = l[3];
    d.innerHTML = l[4];
    document.getElementById('page').appendChild(d);
});
var keyLabels = [[956, 166, '0.5'], [953, 183, '-0.5']];
keyLabels.forEach(function (l) {
    var d = document.createElement('div');
    d.className = 'txt';
    d.style.left = l[0] + 'px';
    d.style.top = l[1] + 'px';
    d.style.fontSize = '14px';
    d.style.fontFamily = SANS;
    d.style.color = '#333';
    d.textContent = l[2];
    document.getElementById('page').appendChild(d);
});
</script>
</body>
</html>
